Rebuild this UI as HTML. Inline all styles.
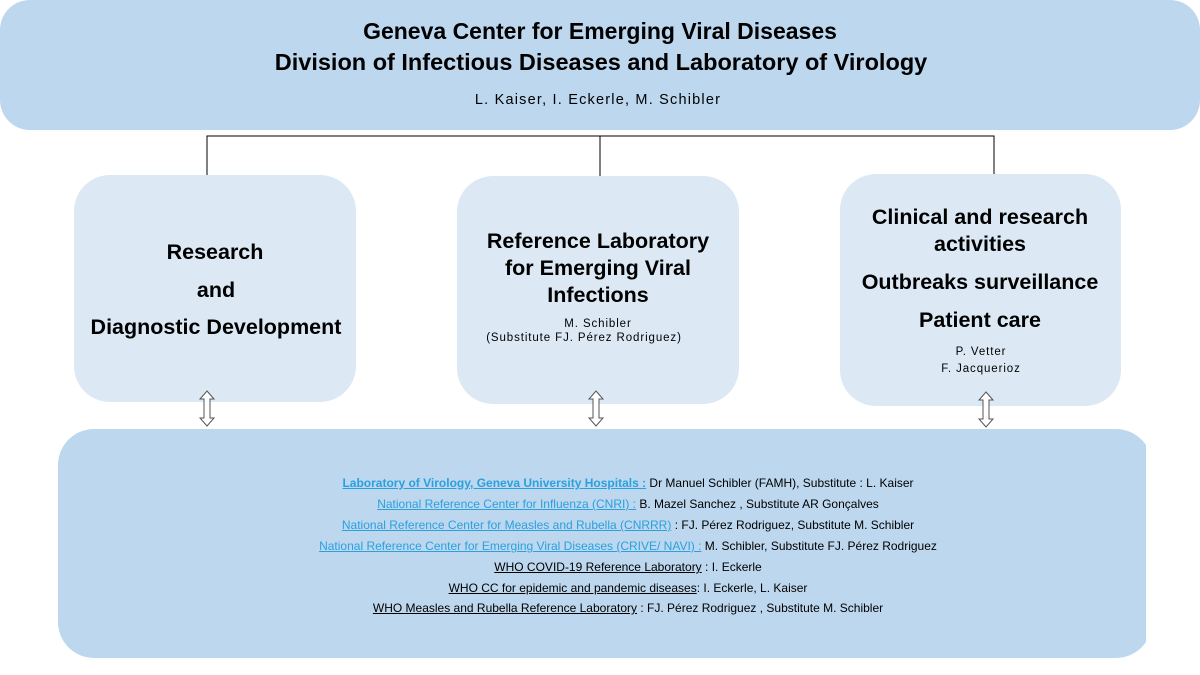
<!DOCTYPE html>
<html><head><meta charset="utf-8"><style>
body{margin:0;width:1200px;height:675px;background:#fff;position:relative;overflow:hidden;font-family:"Liberation Sans",sans-serif;color:#000}
.box{position:absolute;border-radius:36px}
.t{position:absolute;white-space:nowrap;transform:translateX(-50%);line-height:1}
.b{font-weight:bold}
.l{color:#2aa0df;text-decoration:underline}
.u{text-decoration:underline}
.bt{font-size:12px;letter-spacing:0px}
.s{font-size:11.5px;letter-spacing:0.9px}
</style></head><body>
<div class="box" style="left:0;top:0;width:1200px;height:130px;background:#bdd7ee;border-radius:30px"></div>
<div class="t b" style="left:600px;top:20px;font-size:23px">Geneva Center for Emerging Viral Diseases</div>
<div class="t b" style="left:601px;top:51px;font-size:23.5px">Division of Infectious Diseases and Laboratory of Virology</div>
<div class="t" style="left:598px;top:93px;font-size:14.5px;letter-spacing:1.2px">L. Kaiser, I. Eckerle, M. Schibler</div>

<svg style="position:absolute;left:0;top:0" width="1200" height="675">
<path d="M207 175V136H994V175M600 136V176" fill="none" stroke="#000" stroke-width="1"/>
</svg>

<div class="box" style="left:74px;top:175px;width:282px;height:227px;background:#dce9f5"></div>
<div class="box" style="left:457px;top:176px;width:282px;height:228px;background:#dce9f5"></div>
<div class="box" style="left:840px;top:174px;width:281px;height:232px;background:#dce9f5"></div>

<div style="position:absolute;left:0;top:429px;width:1146px;height:229px;overflow:hidden">
<div class="box" style="left:58px;top:0;width:1094px;height:229px;background:#bdd7ee"></div></div>

<svg style="position:absolute;left:0;top:0" width="1200" height="675">
<g fill="#fff" stroke="#555" stroke-width="1">
<path d="M207 391L214 399H210V418H214L207 426L200 418H204V399H200Z"/>
<path d="M596 391L603 399H599V418H603L596 426L589 418H593V399H589Z"/>
<path d="M986 392L993 400H989V419H993L986 427L979 419H983V400H979Z"/>
</g></svg>

<div class="t b" style="left:215px;top:242px;font-size:21.5px">Research</div>
<div class="t b" style="left:216px;top:280px;font-size:21.5px">and</div>
<div class="t b" style="left:216px;top:317px;font-size:21.5px">Diagnostic Development</div>

<div class="t b" style="left:598px;top:231px;font-size:21.5px">Reference Laboratory</div>
<div class="t b" style="left:598px;top:258px;font-size:21.5px">for Emerging Viral</div>
<div class="t b" style="left:598px;top:285px;font-size:21.5px">Infections</div>
<div class="t s" style="left:598px;top:319px">M. Schibler</div>
<div class="t s" style="left:584px;top:333px">(Substitute FJ. Pérez Rodriguez)</div>

<div class="t b" style="left:980px;top:207px;font-size:21.5px">Clinical and research</div>
<div class="t b" style="left:980px;top:234px;font-size:21.5px">activities</div>
<div class="t b" style="left:980px;top:272px;font-size:21.5px">Outbreaks surveillance</div>
<div class="t b" style="left:980px;top:310px;font-size:21.5px">Patient care</div>
<div class="t s" style="left:981px;top:347px">P. Vetter</div>
<div class="t s" style="left:981px;top:364px">F. Jacquerioz</div>

<div class="t bt" style="left:628px;top:477px"><span class="l b">Laboratory of Virology, Geneva University Hospitals :</span> Dr Manuel Schibler (FAMH), Substitute : L. Kaiser</div>
<div class="t bt" style="left:628px;top:498px"><span class="l">National Reference Center for Influenza (CNRI) :</span> B. Mazel Sanchez , Substitute AR Gonçalves</div>
<div class="t bt" style="left:628px;top:519px"><span class="l">National Reference Center for Measles and Rubella (CNRRR)</span> : FJ. Pérez Rodriguez, Substitute M. Schibler</div>
<div class="t bt" style="left:628px;top:540px"><span class="l">National Reference Center for Emerging Viral Diseases (CRIVE/ NAVI) :</span> M. Schibler, Substitute FJ. Pérez Rodriguez</div>
<div class="t bt" style="left:628px;top:561px"><span class="u">WHO COVID-19 Reference Laboratory</span> : I. Eckerle</div>
<div class="t bt" style="left:628px;top:582px"><span class="u">WHO CC for epidemic and pandemic diseases</span>: I. Eckerle, L. Kaiser</div>
<div class="t bt" style="left:628px;top:602px"><span class="u">WHO Measles and Rubella Reference Laboratory</span> : FJ. Pérez Rodriguez , Substitute M. Schibler</div>
</body></html>
